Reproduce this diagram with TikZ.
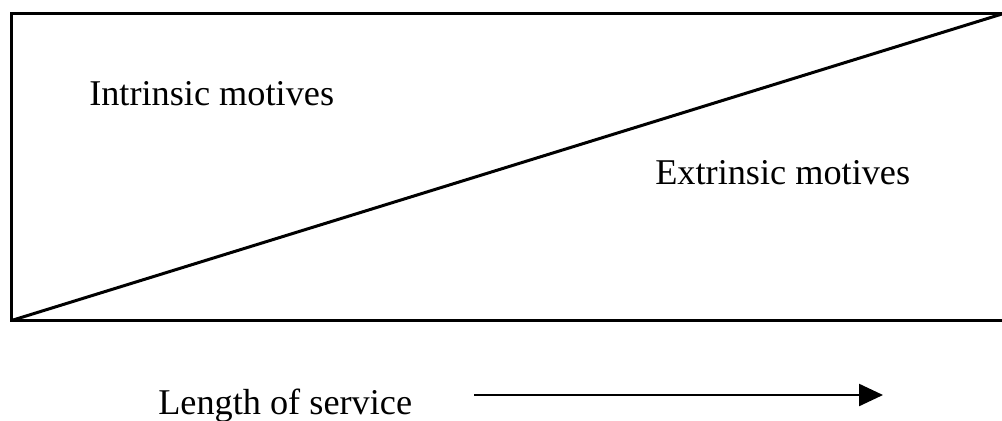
\documentclass[tikz,border=0pt]{standalone}
\usepackage{fontspec}
\setmainfont{Liberation Serif}
\usetikzlibrary{arrows.meta}
\tikzset{label text/.style={anchor=base west, inner sep=0pt, font=\fontsize{25.8}{30}\selectfont}}

\begin{document}
\begin{tikzpicture}[x=0.25mm, y=-0.25mm]
		%%%%% START %%%%%
		\useasboundingbox (0, 0) rectangle (1002, 420);
		
		\coordinate (topleft) at (11.5, 13.5);
		\coordinate (topright) at (1002, 13.5);
		\coordinate (botleft) at (11.5, 320.5);
		\coordinate (botright) at (1002, 320.5);
		
		\draw[line width=0.7mm] (topright) -- (topleft) -- (botleft) -- (botright);
		\draw[line width=0.75mm] (botleft) -- (1002, 14);
		
		\node[label text] (intrinsic) at (89, 105) {Intrinsic motives};
		\node[label text] (extrinsic) at (655, 184) {Extrinsic motives};
		\node[label text] (service) at (158, 414) {Length of service};
		
		\coordinate (arrowstart) at (474, 395);
		\coordinate (arrowend) at (883, 395);
		\draw[line width=0.6mm, -{Triangle[length=6mm, width=5.5mm]}] (arrowstart) -- (arrowend);
		%%%%% END %%%%%
	\end{tikzpicture}
\end{document}
